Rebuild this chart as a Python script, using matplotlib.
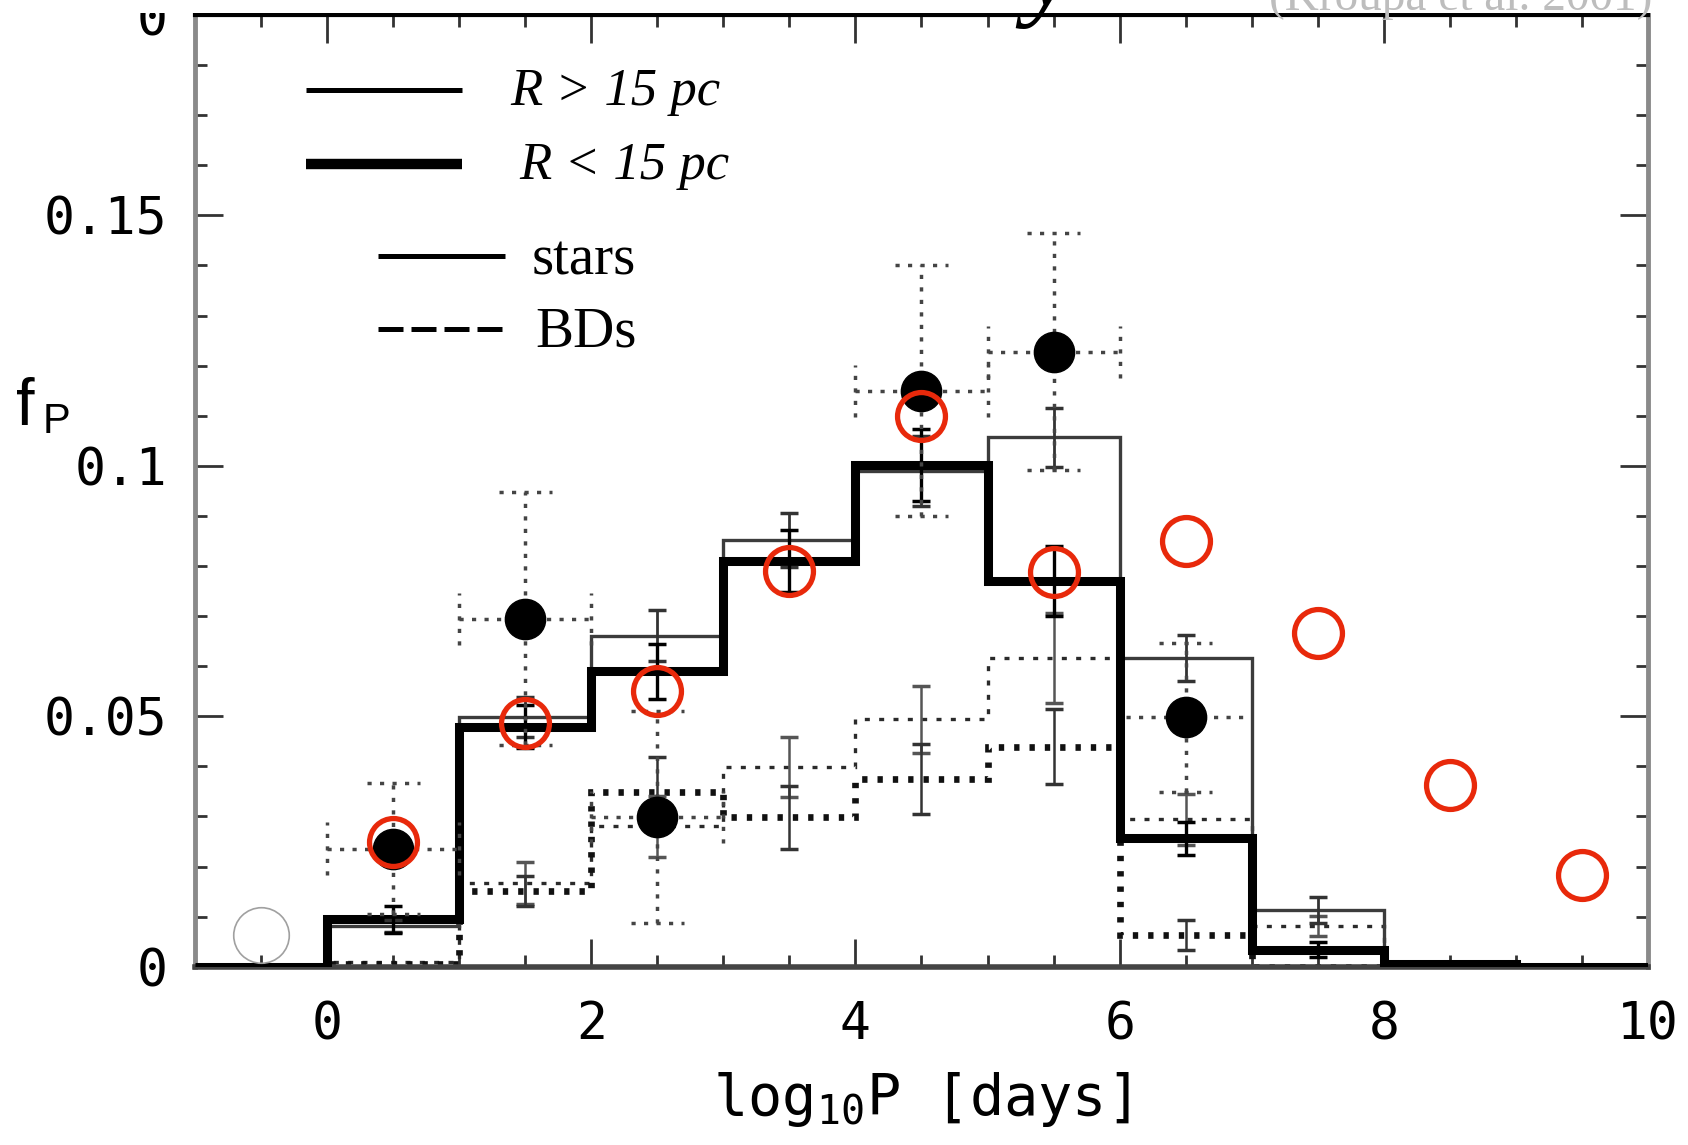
import matplotlib
matplotlib.use("Agg")
import matplotlib.pyplot as plt
import numpy as np
from matplotlib.patches import Rectangle
from matplotlib.ticker import MultipleLocator

# period bins, log10 P [days]
edges = np.arange(-1, 11, 1)
bin_mid = edges[:-1] + 0.5

# stars: R > 15 pc (thin line) and R < 15 pc (thick line)
stars_far = [0, 0.0082, 0.0498, 0.0661, 0.0852, 0.0990, 0.1057, 0.0616, 0.0114, 0.0010, 0]
stars_near = [0, 0.0095, 0.0479, 0.0590, 0.0810, 0.1001, 0.0770, 0.0256, 0.0034, 0.0006, 0]
stars_far_err = [0, 0.0012, 0.0040, 0.0051, 0.0054, 0.0070, 0.0059, 0.0046, 0.0026, 0, 0]
stars_near_err = [0, 0.0027, 0.0043, 0.0055, 0.0062, 0.0072, 0.0070, 0.0033, 0.0015, 0, 0]

# brown dwarfs: R > 15 pc (fine dots) and R < 15 pc (coarse dots)
bd_far = [0, 0.0010, 0.0167, 0.0280, 0.0398, 0.0494, 0.0616, 0.0294, 0.0082, 0, 0]
bd_near = [0, 0.0005, 0.0152, 0.0348, 0.0298, 0.0374, 0.0439, 0.0063, 0, 0, 0]
bd_far_err = [0, 0, 0.0042, 0.0060, 0.0060, 0.0067, 0.0090, 0.0050, 0.0020, 0, 0]
bd_near_err = [0, 0, 0.0030, 0.0070, 0.0063, 0.0070, 0.0075, 0.0030, 0, 0, 0]

# observed binaries (filled points with dotted error bars)
obs_x = [0.5, 1.5, 2.5, 4.5, 5.5, 6.5]
obs_y = [0.0236, 0.0695, 0.0299, 0.1150, 0.1228, 0.0498]
obs_yerr = [0.0131, 0.0253, 0.0211, 0.0250, 0.0236, 0.0149]
obs_xerr = [0.5, 0.5, 0.5, 0.5, 0.5, 0.45]
obs_xcap = [True, True, True, True, True, False]

# red open circles
model_x = [0.5, 1.5, 2.5, 3.5, 4.5, 5.5, 6.5, 7.5, 8.5, 9.5]
model_y = [0.0248, 0.0486, 0.0551, 0.0790, 0.1099, 0.0788, 0.0850, 0.0666, 0.0363, 0.0183]

# faint grey circle
ref_x = [-0.5]
ref_y = [0.0063]

legend_labels = ["R > 15 pc", "R < 15 pc", "stars", "BDs"]
xticks = [0, 2, 4, 6, 8, 10]
yticks = [0, 0.05, 0.1, 0.15]
ytick_labels = ["0", "0.05", "0.1", "0.15"]

plt.rcParams['font.family'] = ['DejaVu Sans Mono']
plt.rcParams['mathtext.fontset'] = 'custom'
plt.rcParams['mathtext.rm'] = 'DejaVu Sans Mono'

fig = plt.figure(figsize=(16.88, 11.45), dpi=100)
ax = fig.add_axes([0.1155, 0.1557, 0.8608, 0.8312])
ax.set_xlim(-1, 10)
ax.set_ylim(0, 0.19)

fine_dot = (0, (1.5, 2.8))
coarse_dot = (0, (0.8, 1.5))

# histograms
ax.stairs(bd_far, edges, baseline=None, color='#2a2a2a', lw=2.4, linestyle=fine_dot, zorder=2)
ax.stairs(bd_near, edges, baseline=None, color='#111111', lw=4.8, linestyle=coarse_dot, zorder=2)
ax.stairs(stars_far, edges, baseline=None, color='#3c3c3c', lw=2.4, zorder=3)
ax.stairs(stars_near, edges, baseline=None, color='black', lw=6.5, zorder=4)

# solid error bars on the histograms
def hist_err(vals, errs, color, lw):
	v = np.array(vals)
	e = np.array(errs)
	m = e > 0
	ax.errorbar(bin_mid[m], v[m], yerr=e[m], fmt='none', ecolor=color,
		elinewidth=lw, capsize=6.5, capthick=2.5, zorder=5)

hist_err(bd_far, bd_far_err, '#555555', 1.8)
hist_err(bd_near, bd_near_err, '#333333', 1.8)
hist_err(stars_far, stars_far_err, '#333333', 2.0)
hist_err(stars_near, stars_near_err, 'black', 2.4)

# observed points with dotted error bars
ox = np.array(obs_x)
oy = np.array(obs_y)
oye = np.array(obs_yerr)
oxe = np.array(obs_xerr)
ocap = np.array(obs_xcap)
err_dot = (0, (1.2, 2.4))
cap_w = 0.2
cap_h = 0.0052
ax.vlines(ox, oy - oye, oy + oye, colors='#444444', linestyles=err_dot, lw=2.5, zorder=6)
ax.hlines(oy, ox - oxe, ox + oxe, colors='#444444', linestyles=err_dot, lw=2.5, zorder=6)
ax.hlines(np.concatenate([oy - oye, oy + oye]), np.concatenate([ox - cap_w, ox - cap_w]),
	np.concatenate([ox + cap_w, ox + cap_w]), colors='#444444', linestyles=err_dot, lw=2.5, zorder=6)
cx = np.concatenate([ox[ocap] - oxe[ocap], ox[ocap] + oxe[ocap]])
cy = np.concatenate([oy[ocap], oy[ocap]])
ax.vlines(cx, cy - cap_h, cy + cap_h, colors='#444444', linestyles=err_dot, lw=2.5, zorder=6)
ax.plot(ox, oy, 'o', color='black', ms=29, mec='black', zorder=7)

# open circles
ax.plot(ref_x, ref_y, 'o', mfc='none', mec='#a0a0a0', ms=40, mew=1.2, zorder=7)
ax.plot(model_x, model_y, 'o', mfc='none', mec='#e8290b', ms=34.5, mew=3.8, zorder=10)

# legend drawn by hand as in the original
ax.plot([-0.163, 1.02], [0.1751, 0.1751], color='black', lw=3.6, solid_capstyle='butt')
ax.plot([-0.163, 1.02], [0.1603, 0.1603], color='black', lw=7.5, solid_capstyle='butt')
ax.plot([0.384, 1.347], [0.1418, 0.1418], color='black', lw=3.6, solid_capstyle='butt')
ax.plot([0.384, 1.347], [0.1274, 0.1274], color='black', lw=3.6, linestyle=(0, (5.0, 1.6)))
ax.text(1.388, 0.1721, legend_labels[0], family='Liberation Serif', style='italic', fontsize=38, va='baseline')
ax.text(1.453, 0.1573, legend_labels[1], family='Liberation Serif', style='italic', fontsize=38, va='baseline')
ax.text(1.551, 0.1382, legend_labels[2], family='Liberation Serif', fontsize=41, va='baseline')
ax.text(1.576, 0.1238, legend_labels[3], family='Liberation Serif', fontsize=41, va='baseline')

# axes styling
ax.set_xticks(xticks)
ax.set_yticks(yticks)
ax.set_yticklabels(ytick_labels)
ax.xaxis.set_minor_locator(MultipleLocator(0.5))
ax.yaxis.set_minor_locator(MultipleLocator(0.01))
ax.tick_params(which='both', direction='in', top=True, right=True, color='#333333', width=2.0)
ax.tick_params(which='major', length=20, labelsize=37)
ax.tick_params(which='minor', length=8.5)
ax.tick_params(axis='x', pad=24)
ax.tick_params(axis='y', pad=20)
for s in ['left', 'right']:
	ax.spines[s].set_color('#8a8a8a')
	ax.spines[s].set_linewidth(3.5)
ax.spines['top'].set_color('black')
ax.spines['top'].set_linewidth(3.0)
ax.spines['bottom'].set_color('#444444')
ax.spines['bottom'].set_linewidth(4.0)

ax.set_xlabel(r'log$_{10}$P [days]', fontsize=41, labelpad=14)
fig.text(0.0095, 0.629, 'f', family='Liberation Sans', fontsize=48, va='baseline')
fig.text(0.0255, 0.622, 'P', family='Liberation Sans', fontsize=30, va='baseline')

# leftovers of the slide this panel was cut from
fig.text(0.0995, 1 - 35 / 1145.0, '0', fontsize=37, ha='right', va='baseline', zorder=3)
fig.add_artist(Rectangle((0.0, 1 - 12.5 / 1145.0), 1.0, 12.5 / 1145.0, transform=fig.transFigure,
	facecolor='white', edgecolor='none', zorder=5))
fig.text(0.607, 1 - 6 / 1145.0, 'y', family='Liberation Serif', style='italic', fontsize=80,
	ha='left', va='baseline', zorder=6)
fig.text(0.9787, 1 - 10 / 1145.0, '(Kroupa et al. 2001)', family='Liberation Serif', fontsize=34,
	color='#bdbdbd', ha='right', va='baseline', zorder=6)

fig.savefig('out.png', dpi=100)
plt.close(fig)
